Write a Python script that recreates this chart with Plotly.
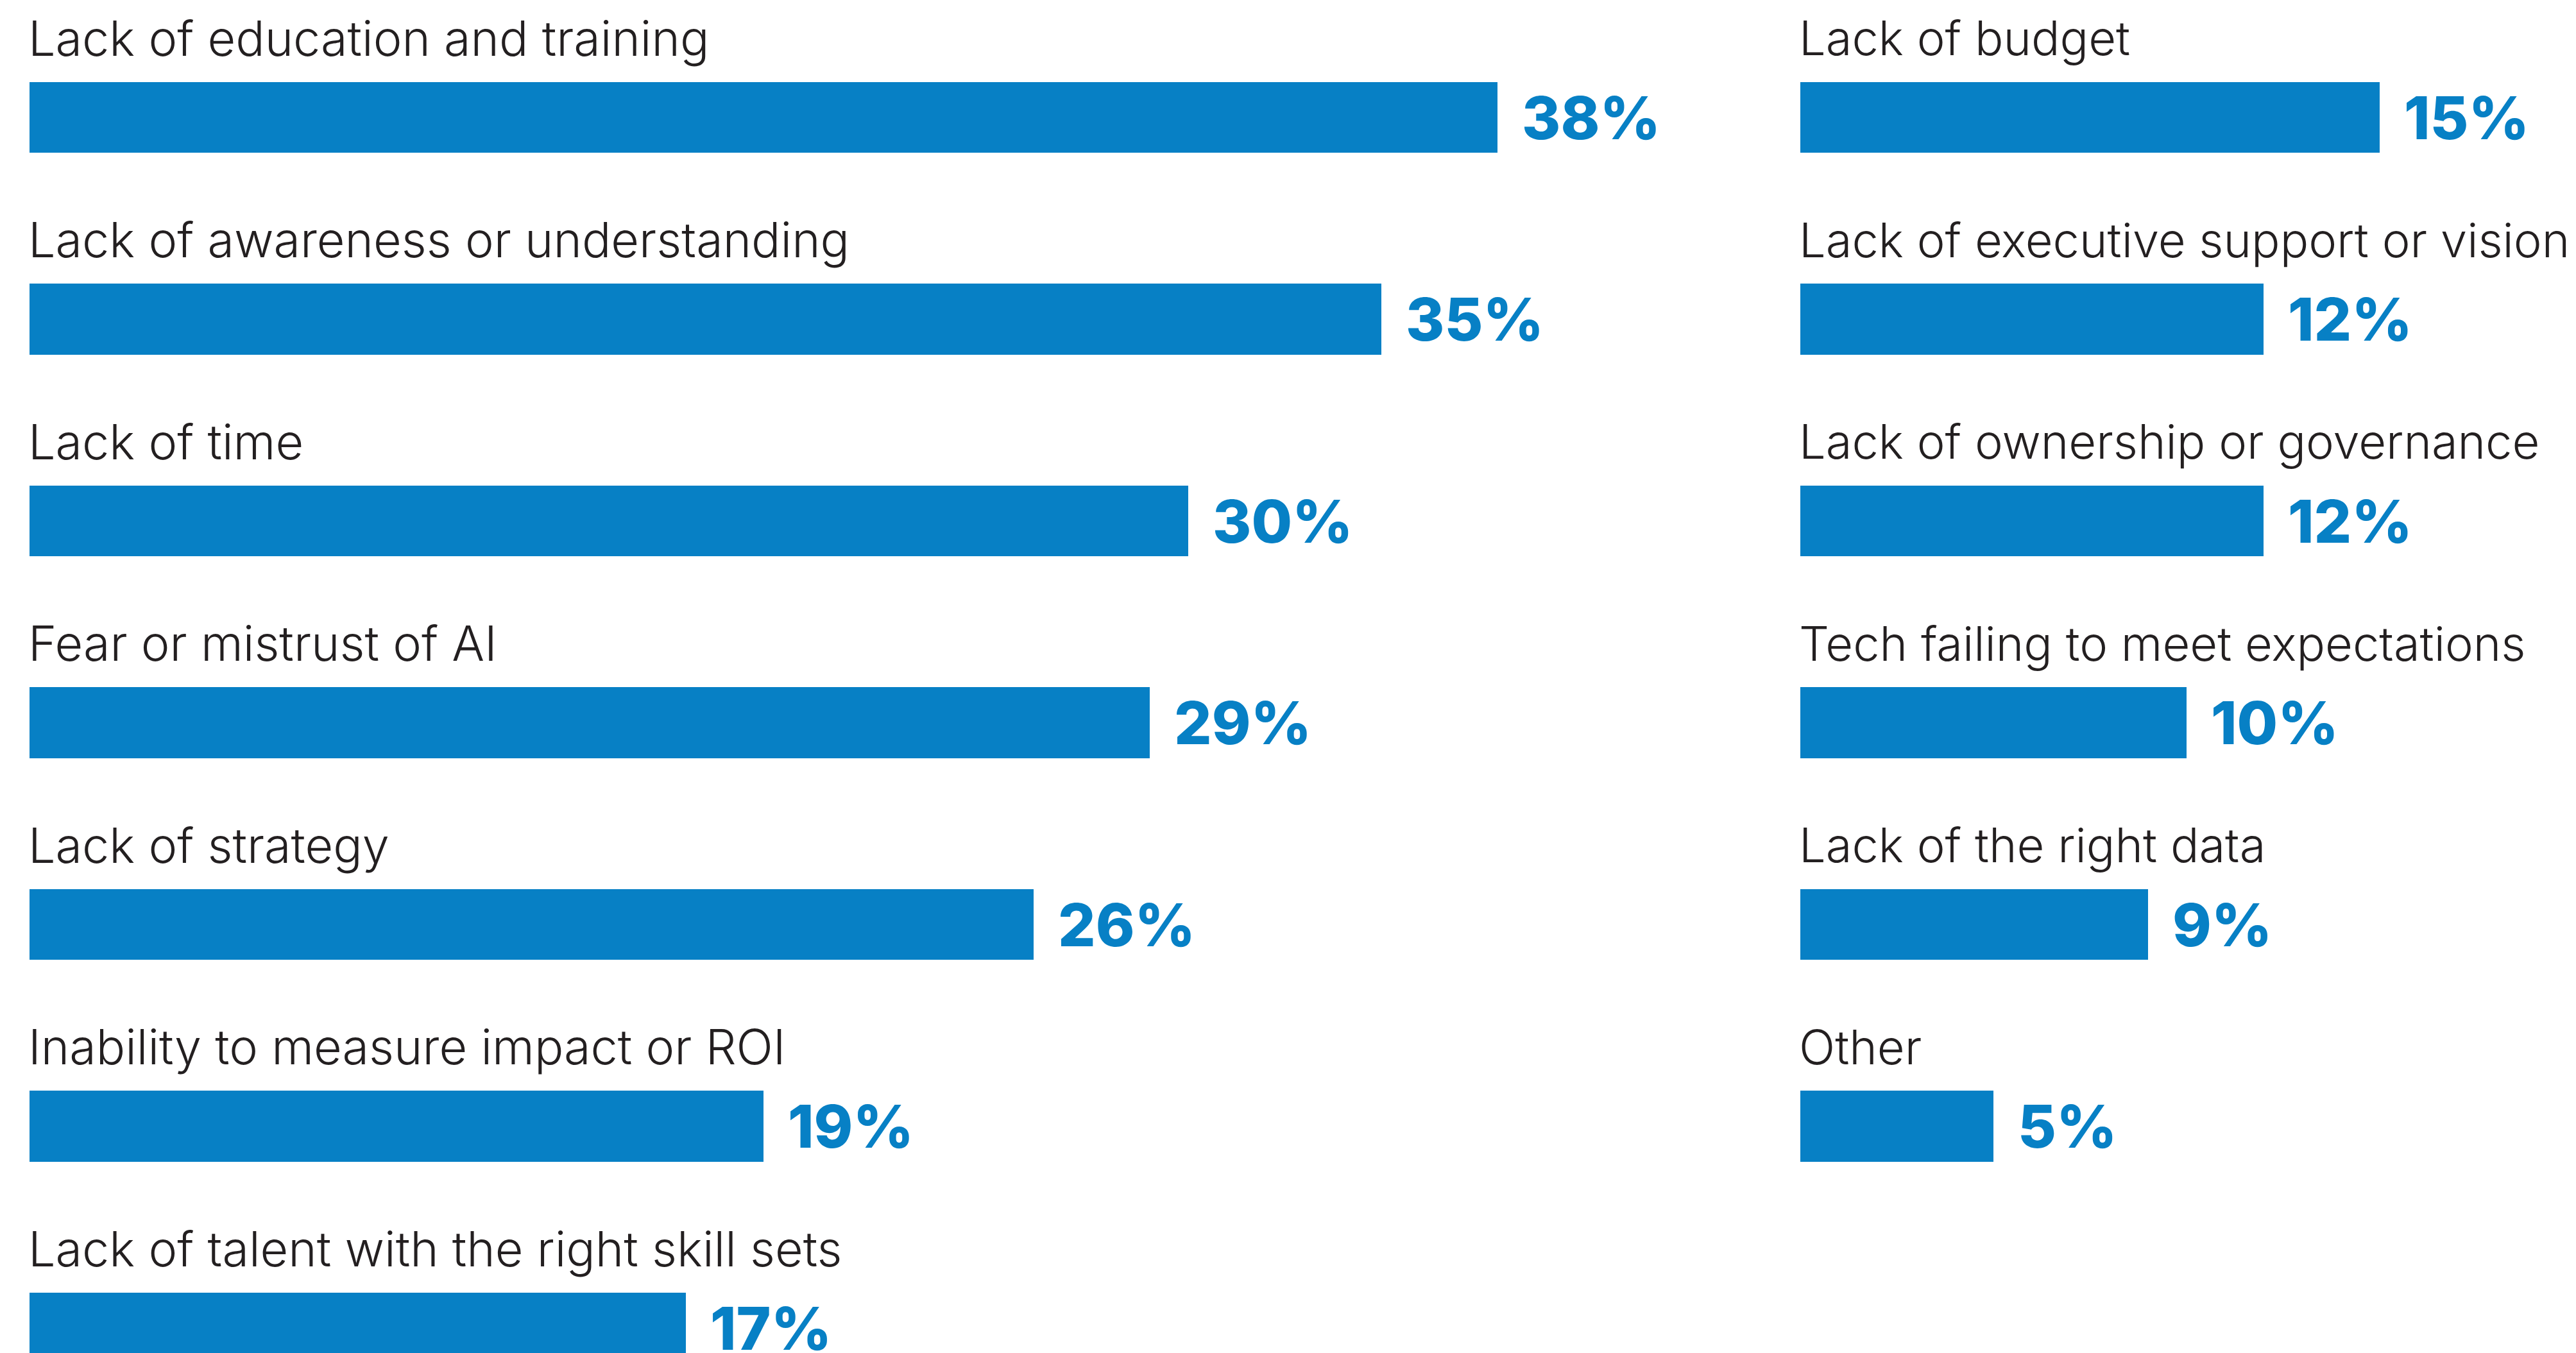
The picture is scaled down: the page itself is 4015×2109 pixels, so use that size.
import plotly.graph_objects as go

# Left column: barriers with the larger shares
left_labels = [
    "Lack of education and training",
    "Lack of awareness or understanding",
    "Lack of time",
    "Fear or mistrust of AI",
    "Lack of strategy",
    "Inability to measure impact or ROI",
    "Lack of talent with the right skill sets",
]
left_values = [38, 35, 30, 29, 26, 19, 17]

# Right column: remaining barriers
right_labels = [
    "Lack of budget",
    "Lack of executive support or vision",
    "Lack of ownership or governance",
    "Tech failing to meet expectations",
    "Lack of the right data",
    "Other",
]
right_values = [15, 12, 12, 10, 9, 5]

W, H = 4015, 2109
BAR_COLOR = "#0780C5"
TEXT_COLOR = "#231F20"
LABEL_FONT = "Inter"
VALUE_FONT = "Inter"
PX_PER_PCT = 60.2
ROW_PX = 314.5
FIRST_ROW_CENTER = 183

left_x0, left_x1 = 46, 2500
right_x0, right_x1 = 2806, 4015

fig = go.Figure()

fig.add_trace(go.Bar(
    x=left_values, y=list(range(len(left_values))), orientation="h",
    marker=dict(color=BAR_COLOR, line=dict(width=0)), width=0.35,
    xaxis="x", yaxis="y", hoverinfo="skip", showlegend=False,
))
fig.add_trace(go.Bar(
    x=right_values, y=list(range(len(right_values))), orientation="h",
    marker=dict(color=BAR_COLOR, line=dict(width=0)), width=0.35,
    xaxis="x2", yaxis="y2", hoverinfo="skip", showlegend=False,
))

y_top = -FIRST_ROW_CENTER / ROW_PX
y_bot = (H - FIRST_ROW_CENTER) / ROW_PX

annotations = []
label_offset = 124 / ROW_PX
for xref, yref, labels, values, lab_size in (("x", "y", left_labels, left_values, 75.5),
                                             ("x2", "y2", right_labels, right_values, 74)):
    for i, (lab, val) in enumerate(zip(labels, values)):
        annotations.append(dict(
            x=0, y=i - label_offset, xref=xref, yref=yref,
            text=lab, showarrow=False, xanchor="left", yanchor="middle",
            xshift=-4,
            font=dict(family=LABEL_FONT, size=lab_size, color=TEXT_COLOR, weight=300),
        ))
        annotations.append(dict(
            x=val, y=i, xref=xref, yref=yref,
            text=f"{val}%", showarrow=False, xanchor="left", yanchor="middle",
            xshift=36,
            font=dict(family=VALUE_FONT, size=92, color=BAR_COLOR, weight=800),
        ))

axis_common = dict(showgrid=False, zeroline=False, showticklabels=False,
                   showline=False, ticks="", fixedrange=True)

fig.update_layout(
    width=W, height=H,
    margin=dict(l=0, r=0, t=0, b=0),
    paper_bgcolor="white", plot_bgcolor="white",
    bargap=0,
    xaxis=dict(domain=[left_x0 / W, left_x1 / W],
               range=[0, (left_x1 - left_x0) / PX_PER_PCT], **axis_common),
    xaxis2=dict(domain=[right_x0 / W, right_x1 / W],
                range=[0, (right_x1 - right_x0) / PX_PER_PCT], **axis_common),
    yaxis=dict(domain=[0, 1], range=[y_bot, y_top], **axis_common),
    yaxis2=dict(domain=[0, 1], range=[y_bot, y_top], anchor="x2", **axis_common),
    annotations=annotations,
)

fig.write_html("out.html")
